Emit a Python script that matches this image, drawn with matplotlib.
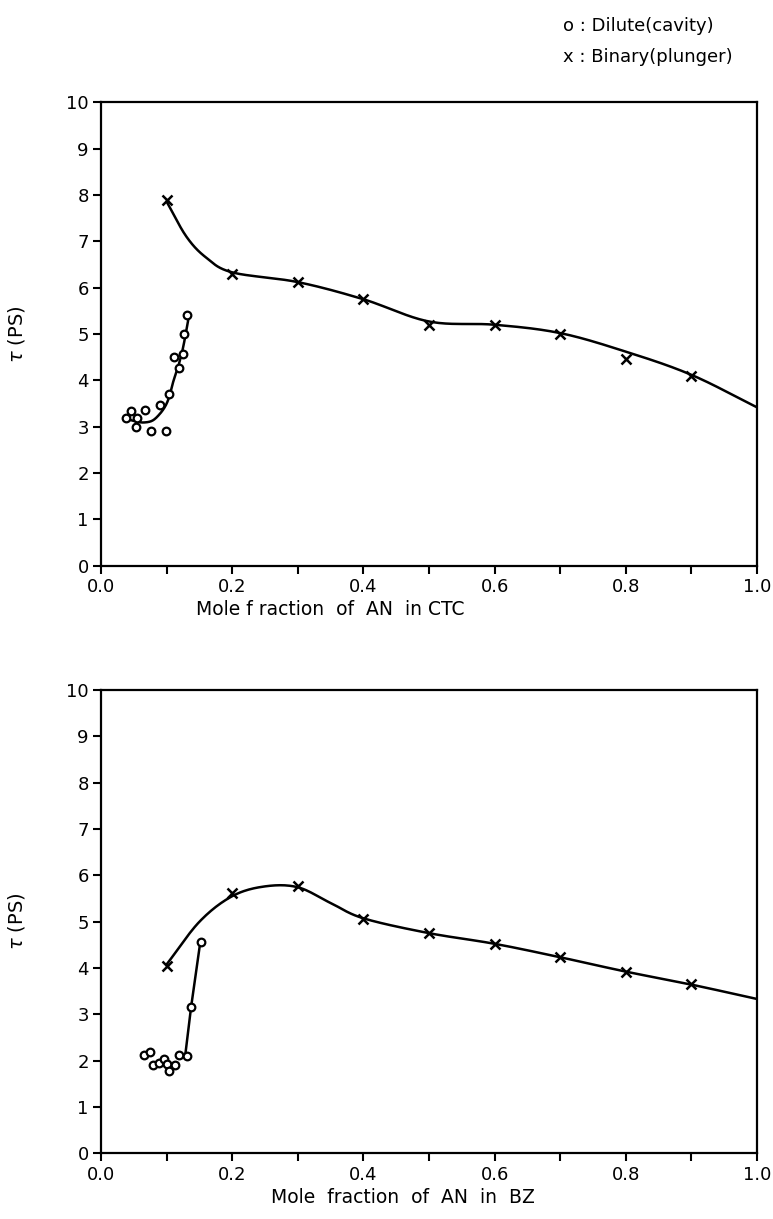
import matplotlib.pyplot as plt
import numpy as np

# binary (plunger) measurements
bin_x = [0.1, 0.2, 0.3, 0.4, 0.5, 0.6, 0.7, 0.8, 0.9]
ctc_bin = [7.9, 6.3, 6.12, 5.75, 5.2, 5.2, 5.0, 4.45, 4.1]
bz_bin = [4.05, 5.62, 5.77, 5.05, 4.75, 4.52, 4.23, 3.92, 3.65]

# dilute (cavity) measurements
ctc_dil_x = [0.038, 0.046, 0.054, 0.053, 0.066, 0.076, 0.098, 0.089, 0.104, 0.111, 0.118, 0.124, 0.126, 0.131]
ctc_dil = [3.18, 3.34, 3.18, 3.0, 3.36, 2.9, 2.9, 3.47, 3.71, 4.5, 4.26, 4.57, 5.0, 5.4]
bz_dil_x = [0.065, 0.075, 0.079, 0.088, 0.095, 0.100, 0.104, 0.113, 0.119, 0.131, 0.137, 0.152]
bz_dil = [2.11, 2.18, 1.91, 1.95, 2.03, 1.92, 1.77, 1.91, 2.11, 2.09, 3.15, 4.55]

# hand drawn guide curves
ctc_bin_fit_x = [0.1, 0.13, 0.16, 0.2, 0.3, 0.4, 0.5, 0.6, 0.7, 0.8, 0.9, 1.0]
ctc_bin_fit = [7.85, 7.1, 6.65, 6.33, 6.12, 5.75, 5.27, 5.2, 5.02, 4.62, 4.12, 3.42]
ctc_dil_fit_x = [0.040, 0.053, 0.065, 0.078, 0.089, 0.098, 0.104, 0.110, 0.118, 0.125, 0.133]
ctc_dil_fit = [3.16, 3.11, 3.09, 3.13, 3.27, 3.45, 3.66, 3.98, 4.33, 4.72, 5.33]
bz_bin_fit_x = [0.1, 0.15, 0.2, 0.25, 0.3, 0.35, 0.4, 0.5, 0.6, 0.7, 0.8, 0.9, 1.0]
bz_bin_fit = [4.08, 5.0, 5.55, 5.76, 5.74, 5.4, 5.07, 4.75, 4.52, 4.23, 3.92, 3.64, 3.33]
bz_dil_fit_x = [0.128, 0.137, 0.150]
bz_dil_fit = [2.1, 3.15, 4.45]

xlabels = ["Mole f raction  of  AN  in CTC", "Mole  fraction  of  AN  in  BZ"]
xlabel_pos = [0.35, 0.46]


def smooth(x, y, n=20):
    # catmull-rom through the guide points
    x = np.asarray(x, float)
    y = np.asarray(y, float)
    px = np.concatenate([[2 * x[0] - x[1]], x, [2 * x[-1] - x[-2]]])
    py = np.concatenate([[2 * y[0] - y[1]], y, [2 * y[-1] - y[-2]]])
    xs, ys = [], []
    t = np.linspace(0, 1, n, endpoint=False)
    for i in range(1, len(px) - 2):
        for p, out in ((px, xs), (py, ys)):
            p0, p1, p2, p3 = p[i - 1], p[i], p[i + 1], p[i + 2]
            out.extend(0.5 * ((2 * p1) + (-p0 + p2) * t
                              + (2 * p0 - 5 * p1 + 4 * p2 - p3) * t ** 2
                              + (-p0 + 3 * p1 - 3 * p2 + p3) * t ** 3))
    xs.append(x[-1])
    ys.append(y[-1])
    return xs, ys


plt.rcParams['font.family'] = ['DejaVu Sans']
fig = plt.figure(figsize=(7.73, 12.19), dpi=100)
ax1 = fig.add_axes([0.131, 0.536, 0.848, 0.380])
ax2 = fig.add_axes([0.131, 0.054, 0.848, 0.380])

panels = [
    (ax1, ctc_bin, ctc_dil_x, ctc_dil, ctc_bin_fit_x, ctc_bin_fit, ctc_dil_fit_x, ctc_dil_fit),
    (ax2, bz_bin, bz_dil_x, bz_dil, bz_bin_fit_x, bz_bin_fit, bz_dil_fit_x, bz_dil_fit),
]

for k, (ax, yb, dx, dy, fbx, fby, fdx, fdy) in enumerate(panels):
    sx, sy = smooth(fbx, fby)
    ax.plot(sx, sy, color='k', lw=1.8, zorder=2)
    if k == 0:
        sx, sy = smooth(fdx, fdy)
    else:
        sx, sy = fdx, fdy
    ax.plot(sx, sy, color='k', lw=1.8, zorder=2)
    ax.plot(bin_x, yb, 'kx', ms=7, mew=1.8, zorder=3)
    ax.plot(dx, dy, 'o', ms=5.5, mfc='white', mec='k', mew=1.6, zorder=3)

    ax.set_xlim(0, 1.0)
    ax.set_ylim(0, 10)
    ax.set_xticks(np.arange(0, 1.01, 0.1))
    ax.set_xticklabels(["0.0", "", "0.2", "", "0.4", "", "0.6", "", "0.8", "", "1.0"])
    ax.set_yticks(range(0, 11))
    ax.tick_params(direction='out', length=6, width=1.5, labelsize=13, pad=3)
    for s in ax.spines.values():
        s.set_linewidth(1.6)
    ax.set_xlabel(xlabels[k], fontsize=13.5, labelpad=8)
    ax.xaxis.set_label_coords(xlabel_pos[k], -0.075)
    ax.set_ylabel(r"$\tau$ (PS)", fontsize=14, labelpad=28)

fig.text(0.728, 0.979, "o : Dilute(cavity)", fontsize=13, va='center', ha='left')
fig.text(0.728, 0.953, "x : Binary(plunger)", fontsize=13, va='center', ha='left')

plt.savefig("out.png", dpi=100)
